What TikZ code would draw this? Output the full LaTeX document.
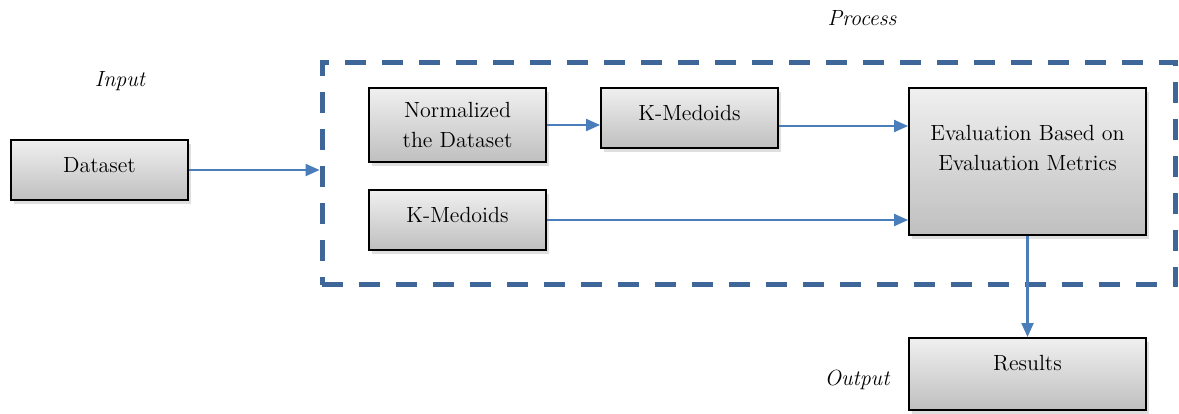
\documentclass[tikz,border=0pt]{standalone}
\usepackage{tikz}
\usetikzlibrary{arrows.meta,shadows}
\definecolor{flowblue}{HTML}{4A7EBB}
\definecolor{frameblue}{HTML}{3F6698}
\tikzset{
  stepbox/.style={draw=black, line width=1.1pt, top color=gray!12, bottom color=gray!50,
    drop shadow={opacity=0.25, shadow xshift=0.06cm, shadow yshift=-0.08cm},
    align=center, font=\fontsize{12.5}{17}\selectfont},
  flow/.style={-{Triangle[length=0.28cm, width=0.24cm]}, flowblue, line width=1.2pt},
  frame/.style={draw=frameblue, line width=0.1cm, dash pattern=on 0.42cm off 0.32cm},
  tag/.style={font=\fontsize{12.5}{15}\selectfont\itshape}
}
\begin{document}
\begin{tikzpicture}[x=0.02cm, y=-0.02cm]
			\useasboundingbox (0, 0) rectangle (1179, 413);
			\node [frame, minimum width=17.08cm, minimum height=4.46cm] (process) at (749, 173.5) {};
			\node [stepbox, minimum width=3.54cm, minimum height=1.2cm, text depth=0.2cm] (data) at (99.5, 170) {Dataset};
			\node [stepbox, minimum width=3.54cm, minimum height=1.48cm] (norm) at (457.5, 125) {Normalized\\the Dataset};
			\node [stepbox, minimum width=3.54cm, minimum height=1.2cm, text depth=0.2cm] (kmed) at (689.5, 118) {K-Medoids};
			\node [stepbox, minimum width=3.54cm, minimum height=1.2cm, text depth=0.2cm] (kmedraw) at (457.5, 220) {K-Medoids};
			\node [stepbox, minimum width=4.74cm, minimum height=2.94cm, text height=0.9cm, text depth=0.56cm] (eval) at (1027.5, 161.5) {Evaluation Based on\\Evaluation Metrics};
			\node [stepbox, minimum width=4.74cm, minimum height=1.44cm, text depth=0.45cm] (results) at (1027.5, 374) {Results};
			\node [tag] (input) at (120, 81) {Input};
			\node [tag] (proc) at (862, 18) {Process};
			\node [tag] (output) at (857, 380) {Output};
			\draw [flow] (data) -- (data -| process.west);
			\draw [flow] (norm) -- (norm -| kmed.west);
			\draw [flow] ([yshift=-0.16cm]kmed.east) -- ([yshift=-0.16cm]kmed.east -| eval.west);
			\draw [flow] (kmedraw) -- (kmedraw -| eval.west);
			\draw [flow] (eval) -- (results);
		\end{tikzpicture}
\end{document}
